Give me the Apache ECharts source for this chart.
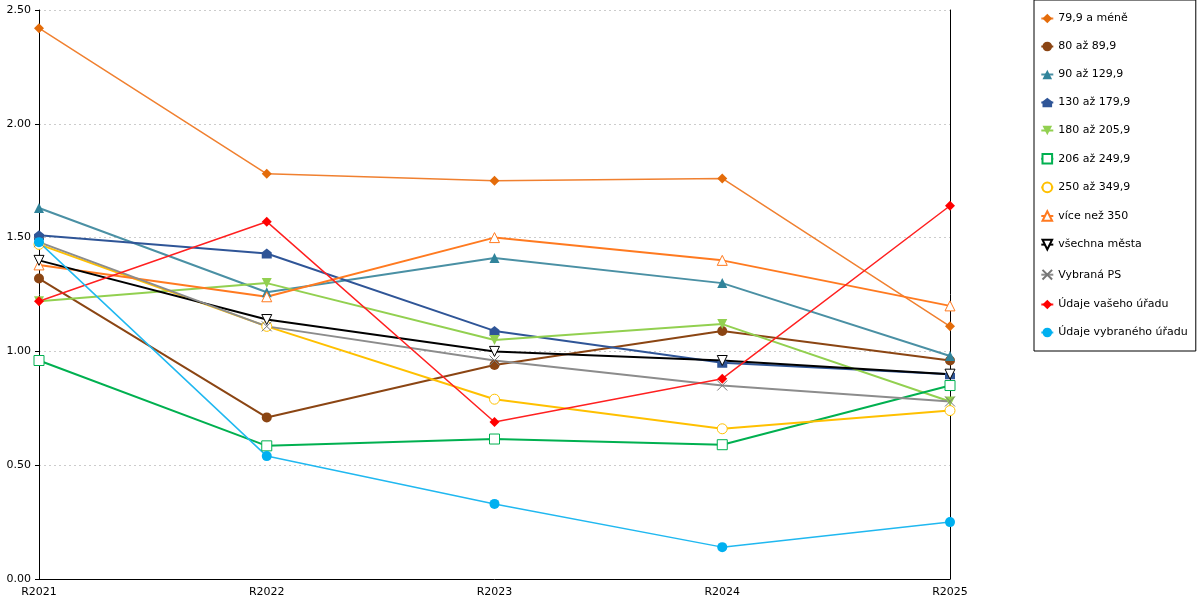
<!DOCTYPE html>
<html><head><meta charset="utf-8">
<script src="https://cdn.jsdelivr.net/npm/echarts@6/dist/echarts.min.js"></script>
<style>html,body{margin:0;padding:0;background:#fff}#c{width:1200px;height:600px}</style>
</head><body><div id="c"></div>
<script>
const categories = ['R2021', 'R2022', 'R2023', 'R2024', 'R2025'];
const names = ['79,9 a méně', '80 až 89,9', '90 až 129,9', '130 až 179,9', '180 až 205,9', '206 až 249,9',
  '250 až 349,9', 'více než 350', 'všechna města', 'Vybraná PS', 'Údaje vašeho úřadu', 'Údaje vybraného úřadu'];
const v79 = [2.42, 1.78, 1.75, 1.76, 1.11];
const v80 = [1.32, 0.71, 0.94, 1.09, 0.96];
const v90 = [1.63, 1.26, 1.41, 1.30, 0.98];
const v130 = [1.51, 1.43, 1.09, 0.95, 0.90];
const v180 = [1.22, 1.30, 1.05, 1.12, 0.78];
const v206 = [0.96, 0.585, 0.615, 0.59, 0.85];
const v250 = [1.47, 1.11, 0.79, 0.66, 0.74];
const v350 = [1.38, 1.24, 1.50, 1.40, 1.20];
const vAll = [1.40, 1.14, 1.00, 0.96, 0.90];
const vPS = [1.48, 1.11, 0.96, 0.85, 0.78];
const vVas = [1.22, 1.57, 0.69, 0.88, 1.64];
const vVyb = [1.48, 0.54, 0.33, 0.14, 0.25];

const DOWN = 'path://M0,0 L10,0 L5,9 Z';
const HOUSE = 'path://M5,0 L10,4 L10,10 L0,10 L0,4 Z';
const XMARK = 'path://M0,0 L10,10 M10,0 L0,10';

function s(name, data, color, symbol, opts = {}) {
  return Object.assign({
    name, data, type: 'line', symbol, symbolSize: 10,
    lineStyle: { color, width: 2 },
    itemStyle: { color },
    emphasis: { disabled: true }
  }, opts);
}
const empty = (c) => ({ itemStyle: { color: '#fff', borderColor: c, borderWidth: 1 } });

const chart = echarts.init(document.getElementById('c'));
chart.setOption({
  animation: false,
  textStyle: { fontFamily: 'DejaVu Sans' },
  grid: { left: 39, right: 250, top: 10, bottom: 21 },
  legend: {
    orient: 'vertical', left: 1034, top: 0,
    padding: [13, 8, 13, 6], itemGap: 17, itemWidth: 12, itemHeight: 12,
    borderColor: '#000', borderWidth: 1,
    textStyle: { fontSize: 11, color: '#000', fontFamily: 'DejaVu Sans' },
    data: names
  },
  xAxis: {
    type: 'category', data: categories, boundaryGap: false,
    axisLine: { lineStyle: { color: '#000' } },
    axisTick: { show: false },
    axisLabel: { color: '#000', fontSize: 11, margin: 8 }
  },
  yAxis: [{
    type: 'value', min: 0, max: 2.5, interval: 0.5,
    axisLine: { show: true, lineStyle: { color: '#000' } },
    axisTick: { show: true, length: 4, lineStyle: { color: '#000' } },
    axisLabel: { color: '#000', fontSize: 11, formatter: v => v.toFixed(2) },
    splitLine: { lineStyle: { color: '#ccc', type: [2, 3] } }
  }, {
    type: 'value', min: 0, max: 2.5, interval: 0.5, position: 'right',
    axisLine: { show: true, lineStyle: { color: '#000' } },
    axisTick: { show: false }, axisLabel: { show: false }, splitLine: { show: false }
  }],
  series: [
    s(names[0], v79, '#E46C0A', 'diamond', { lineStyle: { color: '#F08030', width: 1.5 } }),
    s(names[1], v80, '#8B4513', 'circle'),
    s(names[2], v90, '#31849B', 'triangle', { lineStyle: { color: '#4A90A4', width: 2 } }),
    s(names[3], v130, '#2F5597', HOUSE),
    s(names[4], v180, '#92D050', DOWN),
    Object.assign(s(names[5], v206, '#00B050', 'rect'), empty('#00B050')),
    Object.assign(s(names[6], v250, '#FFC000', 'circle'), empty('#FFC000')),
    Object.assign(s(names[7], v350, '#FF7A20', 'triangle'), empty('#FF7A20')),
    Object.assign(s(names[8], vAll, '#000', DOWN), empty('#000')),
    Object.assign(s(names[9], vPS, '#8C8C8C', XMARK), { itemStyle: { color: 'none', borderColor: '#777', borderWidth: 1 } }),
    s(names[10], vVas, '#FF0000', 'diamond', { lineStyle: { color: '#FF2020', width: 1.5 } }),
    s(names[11], vVyb, '#00B0F0', 'circle', { lineStyle: { color: '#20B8F0', width: 1.5 } })
  ]
});
</script></body></html>
